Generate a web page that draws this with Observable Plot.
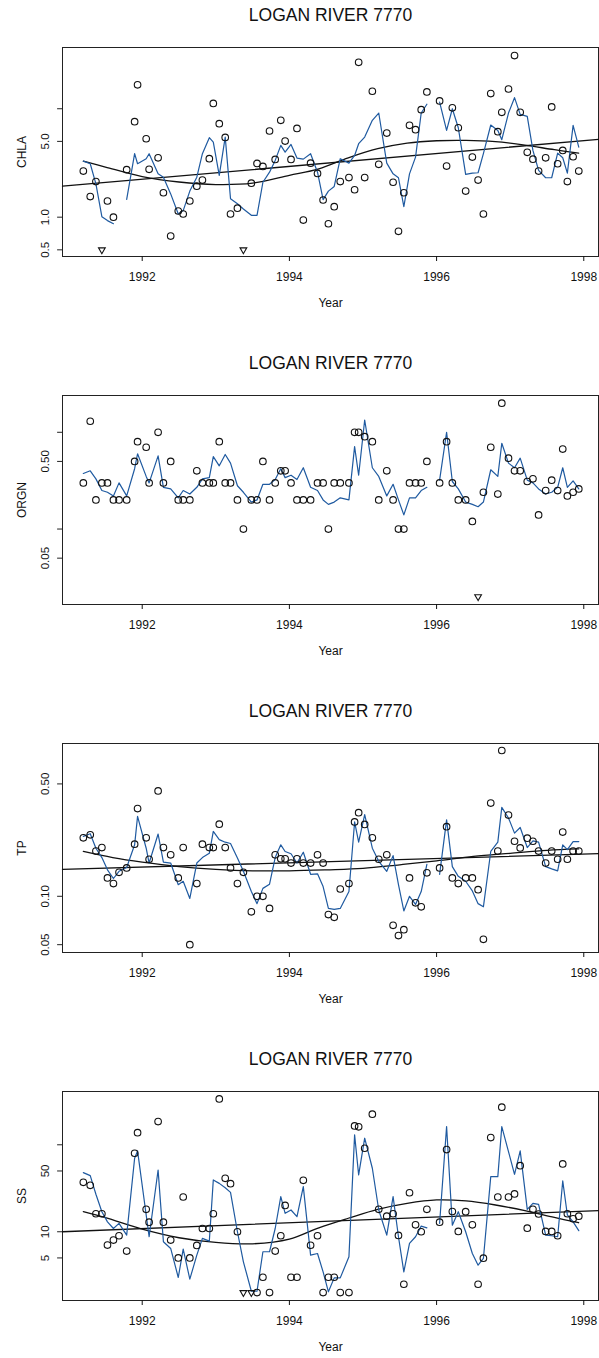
<!DOCTYPE html>
<html>
<head>
<meta charset="utf-8">
<script src="https://cdn.jsdelivr.net/npm/d3@7"></script>
<script src="https://cdn.jsdelivr.net/npm/@observablehq/plot@0.6"></script>
<style>
  body { margin: 0; background: #fff; }
  #chart svg { display: block; }
</style>
</head>
<body>
<div id="chart"></div>
<script>
// ---------- DATA ----------
const stationTitle = "LOGAN RIVER 7770";
const xLabel = "Year";
const yearTicks = [1992, 1994, 1996, 1998];

// sampling dates (decimal years)
const dates = [
  1991.200,1991.294,1991.371,1991.452,1991.528,1991.609,1991.685,1991.789,1991.897,1991.937,
  1992.054,1992.094,1992.216,1992.288,1992.387,1992.490,1992.557,1992.647,1992.742,1992.818,
  1992.912,1992.966,1993.047,1993.128,1993.200,1993.294,1993.375,1993.483,1993.560,1993.640,
  1993.730,1993.807,1993.883,1993.942,1994.022,1994.103,1994.189,1994.288,1994.382,1994.458,
  1994.530,1994.609,1994.691,1994.809,1994.886,1994.941,1995.023,1995.127,1995.214,1995.323,
  1995.409,1995.482,1995.555,1995.632,1995.714,1995.791,1995.868,1995.955,1996.041,1996.136,
  1996.214,1996.295,1996.395,1996.486,1996.564,1996.636,1996.736,1996.832,1996.886,1996.977,
  1997.059,1997.136,1997.232,1997.309,1997.386,1997.482,1997.564,1997.645,1997.714,1997.777,
  1997.855,1997.932
];

// CHLA
const chlaObs = [
  2.66,1.55,2.13,0.5,1.41,1.0,null,2.74,7.6,16.6,
  5.29,2.76,3.53,1.68,0.67,1.14,1.07,1.41,1.93,2.20,
  3.46,11.2,7.28,5.44,1.07,1.21,0.5,2.06,3.13,2.94,
  6.23,3.41,7.82,5.03,3.41,6.59,0.94,3.15,2.53,1.44,
  0.87,1.25,2.13,2.32,1.79,26.8,2.32,14.5,3.07,5.97,
  2.10,0.74,1.68,7.03,6.41,9.80,14.3,null,11.8,2.96,
  10.2,6.68,1.74,3.58,2.20,1.07,13.8,6.14,9.27,15.2,
  30.9,9.27,3.96,3.43,2.66,3.53,10.4,3.11,4.13,2.13,
  3.61,2.66
];
const chlaCensoredDates = [1991.452, 1993.375];
const chlaFit = [
  3.29,3.11,2.03,1.01,0.93,0.87,null,1.46,3.85,3.11,
  3.46,3.85,2.51,2.34,1.64,1.07,1.15,1.74,2.34,3.85,
  5.41,4.93,2.43,5.48,1.48,1.33,1.19,1.04,1.04,2.10,
  2.60,3.34,4.59,3.98,4.69,3.51,3.43,3.85,2.60,1.45,
  1.74,1.92,3.46,3.15,3.71,4.76,5.48,7.82,9.13,3.15,
  2.51,2.31,1.25,2.51,3.58,9.13,11.0,null,11.5,6.31,
  10.0,6.68,2.48,2.55,2.57,3.85,7.08,6.31,5.18,9.13,
  12.65,8.87,8.51,4.13,2.70,2.31,2.31,3.90,3.53,2.55,
  7.03,4.43
];
const chlaTrendYears = [1990.917, 1998.2];
const chlaTrend = [1.93, 5.22];
const chlaSmoothYears = [1991.2,1991.5,1992.0,1992.5,1993.0,1993.5,1994.0,1994.4,1994.8,1995.2,1995.6,1996.0,1996.4,1996.8,1997.2,1997.6,1997.93];
const chlaSmooth = [3.29,2.90,2.37,2.11,2.00,2.06,2.43,2.79,3.53,4.28,4.82,5.07,5.11,4.97,4.62,4.19,3.90];

// ORGN
const orgnObs = [
  0.3,1.3,0.2,0.3,0.3,0.2,0.2,0.2,0.5,0.8,
  0.7,0.3,1.0,0.3,0.5,0.2,0.2,0.2,0.4,0.3,
  0.3,0.3,0.8,0.3,0.3,0.2,0.1,0.2,0.2,0.5,
  0.2,0.3,0.4,0.4,0.3,0.2,0.2,0.2,0.3,0.3,
  0.1,0.3,0.3,0.3,1.0,1.0,0.9,0.8,0.2,0.4,
  0.2,0.1,0.1,0.3,0.3,0.3,0.5,null,0.3,0.8,
  0.3,0.2,0.2,0.12,0.02,0.24,0.7,0.23,2.0,0.54,
  0.4,0.4,0.31,0.33,0.14,0.25,0.32,0.25,0.67,0.22,
  0.24,0.26
];
const orgnCensoredDates = [1996.564];
const orgnFit = [
  0.375,0.40,0.33,0.25,0.24,0.22,0.30,0.22,0.42,0.60,
  0.35,0.30,0.57,0.27,0.26,0.21,0.25,0.23,0.27,0.33,
  0.34,0.56,0.45,0.59,0.48,0.28,0.24,0.19,0.20,0.29,
  0.29,0.325,0.42,0.34,0.36,0.325,0.43,0.27,0.25,0.20,
  0.18,0.19,0.21,0.20,0.71,0.36,1.34,0.43,0.35,0.22,
  0.29,0.20,0.14,0.21,0.21,0.25,0.27,null,0.32,1.0,
  0.31,0.26,0.19,0.18,0.17,0.19,0.41,0.35,0.77,0.48,
  0.43,0.54,0.32,0.30,0.26,0.23,0.24,0.27,0.43,0.27,
  0.315,0.26
];

// TP
const tpObs = [
  0.231,0.241,0.191,0.201,0.130,0.120,0.141,0.150,0.211,0.351,
  0.231,0.170,0.452,0.201,0.181,0.130,0.201,0.050,0.120,0.211,
  0.201,0.201,0.281,0.201,0.150,0.120,0.141,0.080,0.100,0.100,
  0.084,0.181,0.171,0.171,0.161,0.171,0.161,0.161,0.181,0.161,
  0.077,0.074,0.111,0.120,0.290,0.331,0.280,0.231,0.170,0.181,
  0.066,0.057,0.062,0.130,0.091,0.086,0.140,null,0.150,0.271,
  0.130,0.120,0.130,0.130,0.110,0.054,0.380,0.191,0.807,0.320,
  0.220,0.200,0.230,0.220,0.191,0.161,0.191,0.170,0.251,0.170,
  0.191,0.191
];
const tpCensoredDates = [];
const tpFit = [
  0.236,0.245,0.199,0.174,0.146,0.129,0.143,0.151,0.209,0.314,
  0.199,0.161,0.244,0.163,0.161,0.118,0.124,0.097,0.161,0.174,
  0.185,0.253,0.225,0.217,0.213,0.173,0.143,0.107,0.090,0.112,
  0.119,0.174,0.209,0.190,0.184,0.161,0.188,0.137,0.138,0.115,
  0.084,0.083,0.084,0.107,0.290,0.217,0.322,0.199,0.165,0.143,
  0.179,0.118,0.081,0.100,0.089,0.107,0.158,null,0.137,0.299,
  0.153,0.133,0.124,0.108,0.090,0.086,0.190,0.217,0.357,0.307,
  0.247,0.268,0.201,0.221,0.217,0.153,0.148,0.144,0.209,0.195,
  0.219,0.219
];
const tpTrendYears = [1990.917, 1998.2];
const tpTrend = [0.147, 0.184];
const tpSmoothYears = [1991.2,1991.6,1992.0,1992.5,1993.0,1993.5,1994.0,1994.5,1995.0,1995.5,1996.0,1996.5,1997.0,1997.5,1997.93];
const tpSmooth = [0.190,0.174,0.163,0.153,0.147,0.144,0.144,0.146,0.149,0.157,0.166,0.177,0.185,0.193,0.197];

// SS
const ssObs = [
  37.0,34.2,16.1,16.1,7.02,8.02,9.0,5.99,79.9,138,
  18.1,12.9,185,12.9,8.02,5.0,25.1,5.0,6.96,10.9,
  10.9,16.1,337,41.1,35.7,10.0,2.0,2.0,2.0,3.0,
  2.0,6.0,9.0,20.1,3.0,3.0,39.0,7.0,9.0,2.0,
  3.0,3.0,2.0,2.0,165,161,91.2,225,18.1,15.1,
  16.1,9.08,2.49,28.1,12.0,10.0,18.1,null,12.9,88.1,
  17.1,10.1,17.0,12.0,2.49,4.97,121,25.1,271,25.1,
  27.2,57.6,11.0,18.1,16.0,10.1,10.1,9.0,60.2,16.1,
  14.1,15.1
];
const ssCensoredDates = [1993.375, 1993.483];
const ssFit = [
  47.8,44.2,27.0,17.0,13.0,10.9,12.5,9.16,70.0,85.0,
  15.6,8.76,51.3,7.67,6.43,2.98,6.31,2.85,5.38,8.38,
  7.80,39.4,36.0,32.1,28.4,10.0,4.51,2.07,2.07,5.89,
  5.89,10.9,25.3,16.3,17.8,14.9,33.0,5.38,5.62,3.46,
  2.04,2.95,2.95,5.15,130,45.0,119,53.7,17.8,9.16,
  25.3,8.76,3.46,7.34,8.76,11.6,11.1,null,12.5,162,
  11.9,17.0,10.0,5.62,4.13,4.93,43.0,43.0,162,83.5,
  45.8,85.0,18.1,21.2,20.6,9.16,9.0,8.76,38.4,15.6,
  13.0,10.3
];
const ssTrendYears = [1990.917, 1998.2];
const ssTrend = [10.0, 17.5];
const ssSmoothYears = [1991.2,1991.5,1992.0,1992.5,1993.0,1993.5,1994.0,1994.4,1994.8,1995.2,1995.6,1996.0,1996.4,1996.8,1997.2,1997.6,1997.93];
const ssSmooth = [17.0,14.5,10.7,8.53,7.54,7.27,8.23,11.1,14.3,18.1,21.2,23.2,22.6,20.3,17.5,14.6,12.7];

// y-axis ticks and their labels (empty = unlabelled tick)
const chlaTicks = [0.5, 1, 5, 10];
const chlaTickLabels = ["0.5", "1.0", "5.0", ""];
const orgnTicks = [0.05, 0.1, 0.5, 1];
const orgnTickLabels = ["0.05", "", "0.50", ""];
const tpTicks = [0.05, 0.1, 0.5];
const tpTickLabels = ["0.05", "0.10", "0.50"];
const ssTicks = [5, 10, 50, 100];
const ssTickLabels = ["5", "10", "50", ""];

// ---------- PANELS ----------
const blue = "#1f5aa0";
const ink = "#111";
const xDomain = [1990.917, 1998.2];

const panels = [
  {label: "CHLA", obs: chlaObs, cens: chlaCensoredDates, fit: chlaFit,
   trendX: chlaTrendYears, trend: chlaTrend, smoothX: chlaSmoothYears, smooth: chlaSmooth,
   domain: [0.434, 36.7], ticks: chlaTicks, tickText: chlaTickLabels},
  {label: "ORGN", obs: orgnObs, cens: orgnCensoredDates, fit: orgnFit,
   trendX: null, trend: null, smoothX: null, smooth: null,
   domain: [0.0166, 2.40], ticks: orgnTicks, tickText: orgnTickLabels},
  {label: "TP", obs: tpObs, cens: tpCensoredDates, fit: tpFit,
   trendX: tpTrendYears, trend: tpTrend, smoothX: tpSmoothYears, smooth: tpSmooth,
   domain: [0.0447, 0.892], ticks: tpTicks, tickText: tpTickLabels},
  {label: "SS", obs: ssObs, cens: ssCensoredDates, fit: ssFit,
   trendX: ssTrendYears, trend: ssTrend, smoothX: ssSmoothYears, smooth: ssSmooth,
   domain: [1.62, 410], ticks: ssTicks, tickText: ssTickLabels}
];

const tickShape = {draw(context, l) { context.moveTo(0, 0); context.lineTo(0, -l); }};
const chart = document.getElementById("chart");

for (const p of panels) {
  const rows = dates.map((d, i) => ({d, v: p.obs[i], c: p.cens.includes(d)}));
  const pts = rows.filter(r => r.v != null && !r.c);
  const cens = rows.filter(r => r.v != null && r.c);
  const fitRows = dates.map((d, i) => ({d, v: p.fit[i] == null ? NaN : p.fit[i]}));
  const yTickRows = p.ticks.map((t, i) => ({t, s: p.tickText[i]}));
  const marks = [];
  marks.push(Plot.frame({stroke: "#222", strokeWidth: 1}));
  marks.push(Plot.axisX({ticks: yearTicks, tickFormat: d => String(d), tickSize: 5, tickPadding: 11,
                         fontSize: 12, label: null}));
  // y ticks (outward) and rotated labels
  marks.push(Plot.vector(yTickRows, {y: "t", frameAnchor: "left", rotate: -90, length: 5,
                                     anchor: "start", shape: tickShape, stroke: "#222", strokeWidth: 1}));
  marks.push(Plot.text(yTickRows.filter(r => r.s !== ""), {y: "t", text: "s", frameAnchor: "left", dx: -14,
                       rotate: -90, textAnchor: "middle", lineAnchor: "bottom", fontSize: 11.5, fill: ink}));
  if (p.trend) {
    marks.push(Plot.line(p.trendX.map((x, i) => ({x, y: p.trend[i]})),
      {x: "x", y: "y", stroke: ink, strokeWidth: 1.3}));
    marks.push(Plot.line(p.smoothX.map((x, i) => ({x, y: p.smooth[i]})),
      {x: "x", y: "y", stroke: ink, strokeWidth: 1.3, curve: "catmull-rom"}));
  }
  marks.push(Plot.line(fitRows, {x: "d", y: "v", stroke: blue, strokeWidth: 1.2}));
  marks.push(Plot.dot(pts, {x: "d", y: "v", r: 3.3, stroke: ink, fill: "none", strokeWidth: 1.1}));
  marks.push(Plot.dot(cens, {x: "d", y: "v", symbol: "triangle", rotate: 180, r: 2.5,
                             stroke: ink, fill: "none", strokeWidth: 1.1}));
  marks.push(Plot.text([stationTitle], {frameAnchor: "top", dy: -32, fontSize: 17.5,
                                        lineAnchor: "middle", fill: ink}));
  marks.push(Plot.text([xLabel], {frameAnchor: "bottom", dy: 47, fontSize: 12,
                                  lineAnchor: "middle", fill: ink}));
  marks.push(Plot.text([p.label], {frameAnchor: "left", dx: -40, rotate: -90, fontSize: 12,
                                   lineAnchor: "middle", textAnchor: "middle", fill: ink}));
  const svg = Plot.plot({
    width: 599, height: 348,
    marginLeft: 62, marginRight: 1, marginTop: 47, marginBottom: 92,
    style: {fontFamily: "'Liberation Sans', Arial, sans-serif", color: ink, background: "#fff"},
    x: {domain: xDomain},
    y: {type: "log", domain: p.domain, axis: null},
    marks
  });
  chart.appendChild(svg);
}
</script>
</body>
</html>
